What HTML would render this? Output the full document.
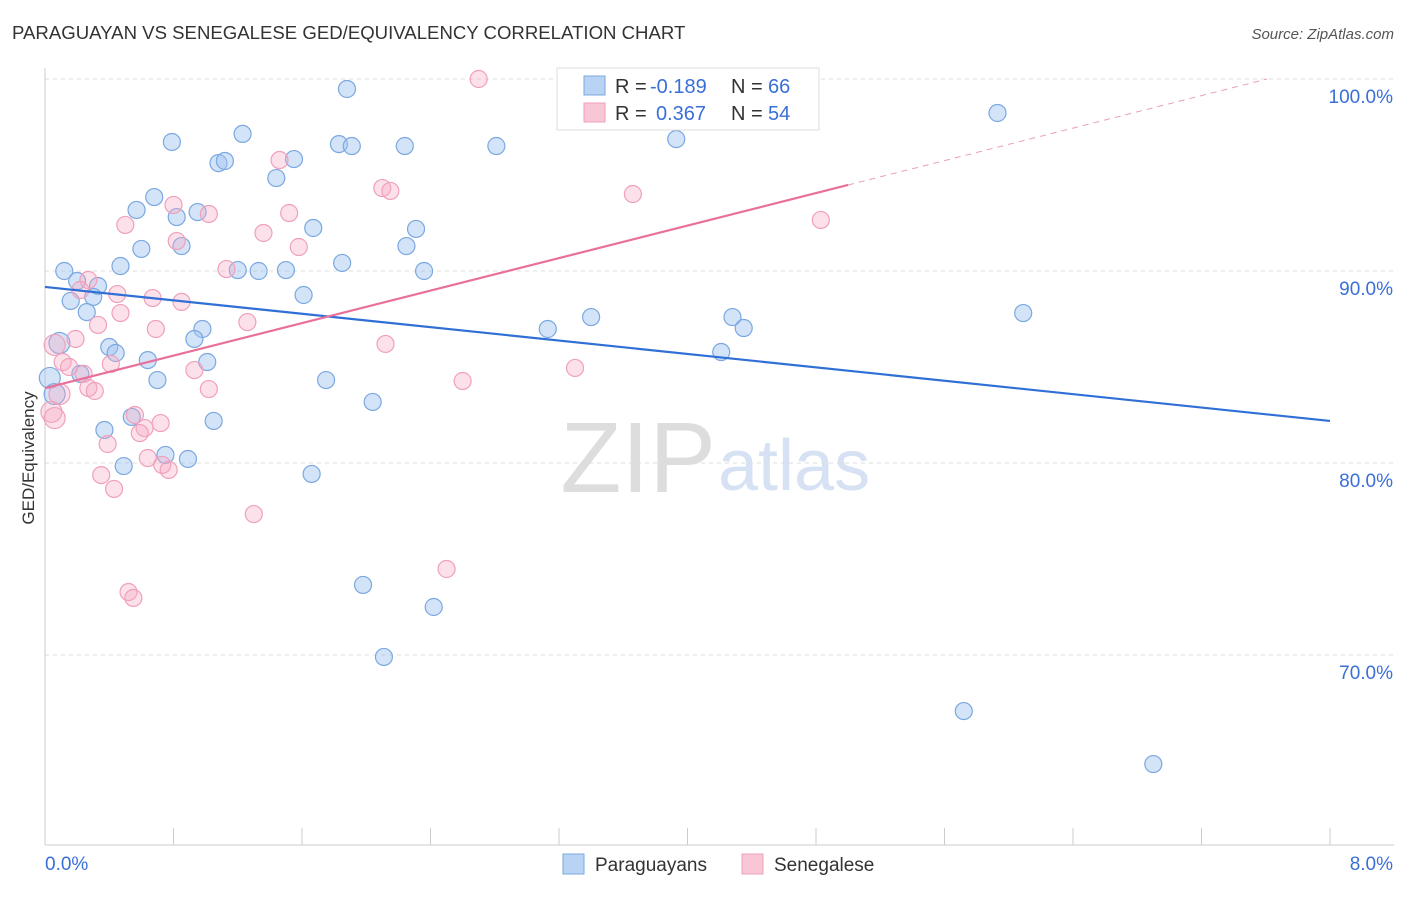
<!DOCTYPE html>
<html><head><meta charset="utf-8"><style>
body{margin:0;background:#fff;font-family:"Liberation Sans",sans-serif;}
svg text{font-family:"Liberation Sans",sans-serif;}
</style></head><body>
<svg id="chart" width="1406" height="892" xmlns="http://www.w3.org/2000/svg">
<text x="12" y="39" font-size="18.6" fill="#333">PARAGUAYAN VS SENEGALESE GED/EQUIVALENCY CORRELATION CHART</text>
<text x="1394" y="39" font-size="15" fill="#555" text-anchor="end" font-style="italic">Source: ZipAtlas.com</text>
<text transform="translate(34,458) rotate(-90)" font-size="17" fill="#333" text-anchor="middle">GED/Equivalency</text>
<text x="716" y="492" font-size="100" text-anchor="end" fill="#ddd" font-family="Liberation Serif">ZIP</text>
<text x="718" y="490" font-size="72" fill="#d6e2f3">atlas</text>
<g id="grid"></g><g id="axes"></g><g id="pts"></g><g id="lines"></g>
<g>
<rect x="557" y="68" width="262" height="62" fill="#fff" stroke="#ddd"/>
<rect x="584" y="76" width="21" height="19" fill="#b9d3f5" stroke="#7aa8e0"/>
<rect x="584" y="103" width="21" height="19" fill="#f9c6d6" stroke="#f0a0bb"/>
<text x="615" y="93" font-size="20" fill="#333">R =</text>
<text x="650" y="93" font-size="20" fill="#3a6fd8">-0.189</text>
<text x="731" y="93" font-size="20" fill="#333">N =</text>
<text x="768" y="93" font-size="20" fill="#3a6fd8">66</text>
<text x="615" y="120" font-size="20" fill="#333">R =</text>
<text x="656" y="120" font-size="20" fill="#3a6fd8">0.367</text>
<text x="731" y="120" font-size="20" fill="#333">N =</text>
<text x="768" y="120" font-size="20" fill="#3a6fd8">54</text>
</g>
<g>
<rect x="563" y="854" width="21" height="20" fill="#b9d3f5" stroke="#7aa8e0"/>
<text x="595" y="871" font-size="19" fill="#333">Paraguayans</text>
<rect x="742" y="854" width="21" height="20" fill="#f9c6d6" stroke="#f0a0bb"/>
<text x="774" y="871" font-size="19" fill="#333">Senegalese</text>
</g>
</svg>
<script>
const blueX=[1.88,0.79,1.23,1.08,1.12,1.83,1.91,2.24,2.81,3.93,5.93,1.44,1.55,0.68,0.57,0.82,0.95,1.67,2.31,0.60,0.85,2.25,0.47,1.20,1.33,1.50,1.85,2.36,0.12,0.20,0.33,0.16,0.30,1.61,0.26,0.98,0.93,3.13,3.40,4.28,4.35,6.09,0.09,0.40,0.44,0.64,1.01,4.21,0.03,0.22,0.70,1.75,0.06,2.04,0.54,1.05,0.37,0.75,0.89,0.49,1.66,1.98,2.42,2.11,5.72,6.90];
const blueY=[99.48,96.72,97.14,95.62,95.73,96.61,96.51,96.51,96.51,96.87,98.23,94.84,95.83,93.85,93.18,92.81,93.07,92.24,92.19,91.15,91.30,91.30,90.26,90.05,90.0,90.05,90.42,90.0,90.0,89.48,89.22,88.44,88.65,88.75,87.86,86.98,86.46,86.98,87.60,87.60,87.03,87.81,86.25,86.04,85.73,85.36,85.26,85.78,84.43,84.64,84.32,84.32,83.59,83.18,82.40,82.19,81.72,80.42,80.21,79.84,79.43,73.65,72.5,69.90,67.08,64.32];
const pinkX=[2.70,1.46,2.10,2.15,3.66,0.80,1.02,1.52,0.50,4.83,1.36,0.82,1.58,1.13,0.27,0.22,0.45,0.67,0.85,0.47,0.33,1.26,0.69,0.19,0.06,2.12,0.11,0.15,0.41,0.93,0.24,3.30,2.60,0.27,0.31,1.02,0.09,0.04,0.06,0.56,0.72,0.62,0.59,0.39,0.64,0.73,0.77,0.35,0.43,1.30,2.50,0.52,0.55];
const pinkY=[100,95.78,94.32,94.17,94.01,93.44,92.97,93.02,92.40,92.66,91.98,91.56,91.25,90.10,89.53,89.01,88.80,88.59,88.39,87.81,87.19,87.34,86.98,86.46,86.15,86.20,85.26,85.0,85.16,84.84,84.64,84.95,84.27,83.91,83.75,83.85,83.59,82.66,82.34,82.5,82.08,81.82,81.56,80.99,80.26,79.90,79.64,79.37,78.65,77.34,74.48,73.28,72.97];
const yTicks=[100,90,80,70];
const yTickLabels=["100.0%","90.0%","80.0%","70.0%"];
const blueTrend=[89.17,82.19];
const pinkTrend=[83.9,94.48];
const NS="http://www.w3.org/2000/svg";
const sx=v=>45+v/8*1285, sy=v=>79+(100-v)*19.2;
function mk(t,a,p){const e=document.createElementNS(NS,t);for(const k in a)e.setAttribute(k,a[k]);document.getElementById(p).appendChild(e);return e;}
yTicks.forEach((t,i)=>{
 const g=mk('line',{x1:45,x2:1394,y1:sy(t),y2:sy(t),stroke:'#ddd','stroke-dasharray':'4,4'},'grid');
 
 
 const l=mk('text',{x:1393,y:sy(t)+24,'font-size':19,fill:'#3a6fd8','text-anchor':'end'},'axes');
 l.textContent=yTickLabels[i];
 
 
});
const ax=mk('line',{x1:45,x2:45,y1:68,y2:845,stroke:'#ccc'},'axes');


const bx=mk('line',{x1:45,x2:1394,y1:845,y2:845,stroke:'#ccc'},'axes');


for(let i=0;i<=10;i++){const t=mk('line',{x1:sx(i*0.8),x2:sx(i*0.8),y1:828,y2:845,stroke:'#ccc'},'axes');
 
 }
[[0,"0.0%","start",45],[8,"8.0%","end",1393]].forEach(d=>{const l=mk('text',{x:d[3],y:870,'font-size':19,fill:'#3a6fd8','text-anchor':d[2]},'axes');l.textContent=d[1];
 
 });
function pts(X,Y,fill,stroke,name){X.forEach((x,i)=>{const r=x<0.1?10.5:8.5;
 const c=mk('circle',{cx:sx(x),cy:sy(Y[i]),r:r,fill:fill,stroke:stroke,'stroke-width':1.2},'pts');
 
 });}
pts(blueX,blueY,'rgba(160,195,240,0.45)','#7aa8e0','paraguayan-point');
pts(pinkX,pinkY,'rgba(245,170,195,0.35)','#f0a0bb','senegalese-point');
const bl=mk('line',{x1:sx(0),y1:sy(blueTrend[0]),x2:sx(8),y2:sy(blueTrend[1]),stroke:'#2f6fd6','stroke-width':2.2},'lines');


const slope=(pinkTrend[1]-pinkTrend[0])/5;
const pl=mk('line',{x1:sx(0),y1:sy(pinkTrend[0]),x2:sx(5),y2:sy(pinkTrend[1]),stroke:'#e8709a','stroke-width':2.2},'lines');


const xe=(100-pinkTrend[0])/slope;
const pd=mk('line',{x1:sx(5),y1:sy(pinkTrend[1]),x2:sx(xe),y2:sy(100),stroke:'#e8a0b8','stroke-width':1,'stroke-dasharray':'6,5'},'lines');


</script>
</body></html>
